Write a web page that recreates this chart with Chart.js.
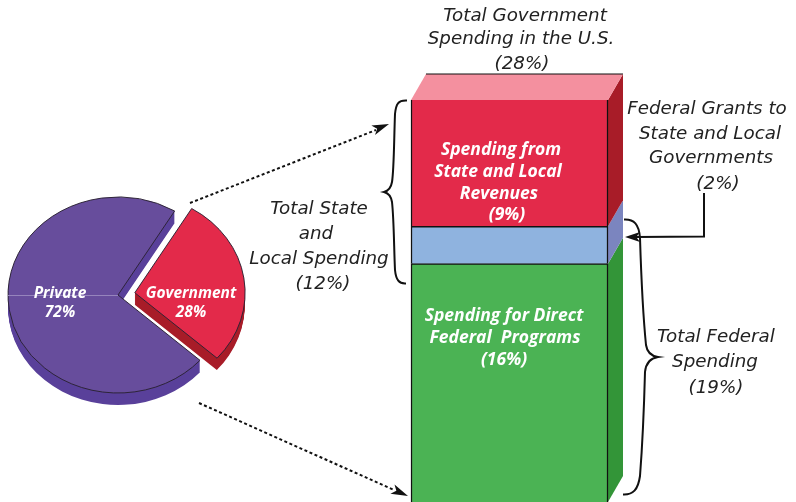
<!DOCTYPE html>
<html>
<head>
<meta charset="utf-8">
<style>
  html, body { margin: 0; padding: 0; background: #fff; overflow: hidden; }
  .wrap { position: relative; width: 796px; height: 502px; }
  canvas { position: absolute; left: 0; top: 0; }
</style>
<script src="https://cdn.jsdelivr.net/npm/chart.js@4/dist/chart.umd.js"></script>
</head>
<body>
<div class="wrap">
  <canvas id="pieChart" width="796" height="502"></canvas>
  <canvas id="barChart" width="796" height="502"></canvas>
</div>
<script>
const pieLabels = ['Government', 'Private'];
const pieValues = [28, 72];
const pieColors = ['#e32a4a', '#674d9c'];
const pieSideColors = ['#a81c28', '#59409a'];

// stacked from the bottom up; heights as drawn, which is not quite what the labels say
const barLabels = ['Spending for Direct Federal Programs', 'Federal Grants', 'Spending from State and Local Revenues'];
const barValues = [16.6, 2.6, 8.8];
const barColors = ['#4bb354', '#8fb3df', '#e32a4a'];
const barSideColors = ['#339538', '#7b85bf', '#a81c28'];
const barTopColor = '#f4909f';

const topText = ['Total Government', 'Spending in the U.S.', '(28%)'];
const stateText = ['Total State', 'and', 'Local Spending', '(12%)'];
const grantsText = ['Federal Grants to', 'State and Local', 'Governments', '(2%)'];
const federalText = ['Total Federal', 'Spending', '(19%)'];
const redText = ['Spending from', 'State and Local', 'Revenues', '(9%)'];
const greenText = ['Spending for Direct', 'Federal  Programs', '(16%)'];
const privateText = ['Private', '72%'];
const governmentText = ['Government', '28%'];

const squash = 98 / 110;
const sliceOffset = 68; // arc draws this / 4 away from the centre
const pieDepth = 12;
const depthX = 15;
const depthY = 26;

const pie3d = {
  id: 'pie3d',
  beforeDatasetsDraw(chart) {
    const { ctx } = chart;
    const arcs = chart.getDatasetMeta(0).data;
    const cx = arcs[0].x;
    const cy = arcs[0].y;
    ctx.save();
    ctx.translate(cx, cy);
    ctx.scale(1, squash);
    ctx.translate(-cx, -cy);
    arcs.forEach((arc, i) => {
      const off = i === 0 ? sliceOffset / 4 : 0;
      const mid = (arc.startAngle + arc.endAngle) / 2;
      const ax = arc.x + Math.cos(mid) * off;
      const ay = arc.y + Math.sin(mid) * off;
      ctx.fillStyle = pieSideColors[i];
      for (let d = 1; d <= pieDepth; d++) {
        ctx.beginPath();
        ctx.moveTo(ax, ay + d / squash);
        ctx.arc(ax, ay + d / squash, arc.outerRadius, arc.startAngle, arc.endAngle);
        ctx.closePath();
        ctx.fill();
      }
    });
  },
  afterDatasetsDraw(chart) {
    const { ctx } = chart;
    const arc = chart.getDatasetMeta(0).data[1];
    ctx.restore();
    // faint seam across the private slice
    ctx.strokeStyle = '#9684bd';
    ctx.lineWidth = 1;
    ctx.beginPath();
    ctx.moveTo(arc.x - arc.outerRadius, arc.y + 0.5);
    ctx.lineTo(arc.x, arc.y + 0.5);
    ctx.stroke();
  }
};

new Chart(document.getElementById('pieChart'), {
  type: 'pie',
  data: {
    labels: pieLabels,
    datasets: [{
      data: pieValues,
      backgroundColor: pieColors,
      borderColor: '#2a2233',
      borderWidth: 1,
      offset: [sliceOffset, 0],
      clip: false,
    }],
  },
  options: {
    responsive: false,
    animation: false,
    rotation: 31,
    radius: 110,
    layout: { padding: { left: 0, right: 560, top: 177, bottom: 89 } },
    plugins: { legend: { display: false }, tooltip: { enabled: false } },
  },
  plugins: [pie3d],
});

function textBlock(ctx, lines, xs, ys, color, font) {
  ctx.fillStyle = color;
  ctx.font = font;
  ctx.textAlign = 'center';
  ctx.textBaseline = 'middle';
  lines.forEach((line, i) => ctx.fillText(line, xs[i], ys[i]));
}

function arrowHead(ctx, x, y, angle, len, wid) {
  ctx.save();
  ctx.translate(x, y);
  ctx.rotate(angle);
  ctx.beginPath();
  ctx.moveTo(0, 0);
  ctx.lineTo(-len, -wid / 2);
  ctx.lineTo(-len * 0.75, 0);
  ctx.lineTo(-len, wid / 2);
  ctx.closePath();
  ctx.fill();
  ctx.restore();
}

const box3d = {
  id: 'box3d',
  beforeDatasetsDraw(chart) {
    const { ctx } = chart;
    let top = null;
    chart.data.datasets.forEach((ds, i) => {
      const bar = chart.getDatasetMeta(i).data[0];
      const right = bar.x + bar.width / 2;
      ctx.fillStyle = barSideColors[i];
      ctx.beginPath();
      ctx.moveTo(right, bar.base);
      ctx.lineTo(right + depthX, bar.base - depthY);
      ctx.lineTo(right + depthX, bar.y - depthY);
      ctx.lineTo(right, bar.y);
      ctx.closePath();
      ctx.fill();
      top = bar;
    });
    const left = top.x - top.width / 2;
    const right = top.x + top.width / 2;
    ctx.fillStyle = barTopColor;
    ctx.beginPath();
    ctx.moveTo(left, top.y);
    ctx.lineTo(left + depthX, top.y - depthY);
    ctx.lineTo(right + depthX, top.y - depthY);
    ctx.lineTo(right, top.y);
    ctx.closePath();
    ctx.fill();
    ctx.strokeStyle = '#111';
    ctx.lineWidth = 1.2;
    ctx.beginPath();
    ctx.moveTo(left + depthX, top.y - depthY);
    ctx.lineTo(right + depthX, top.y - depthY);
    ctx.stroke();
  },
  afterDraw(chart) {
    const { ctx } = chart;
    ctx.save();
    ctx.strokeStyle = '#111';
    ctx.fillStyle = '#111';

    // dotted lines from the pie to the box
    ctx.lineWidth = 2;
    ctx.setLineDash([3, 2.5]);
    ctx.beginPath();
    ctx.moveTo(190, 203);
    ctx.lineTo(376, 130);
    ctx.moveTo(199, 403);
    ctx.lineTo(394, 490);
    ctx.stroke();
    ctx.setLineDash([]);
    arrowHead(ctx, 389, 124, Math.atan2(-74, 188), 17, 10);
    arrowHead(ctx, 408, 496, Math.atan2(88, 197), 17, 10);

    // left brace
    ctx.lineWidth = 2;
    ctx.beginPath();
    ctx.moveTo(407, 100.5);
    ctx.bezierCurveTo(398, 100, 396, 104, 395, 114);
    ctx.bezierCurveTo(394, 140, 394, 170, 392, 182);
    ctx.bezierCurveTo(391, 188, 388, 191, 384, 192);
    ctx.bezierCurveTo(388, 193, 391, 196, 392, 202);
    ctx.bezierCurveTo(394, 220, 394, 250, 395, 270);
    ctx.bezierCurveTo(396, 280, 399, 284, 406, 283.5);
    ctx.stroke();

    // right brace
    ctx.beginPath();
    ctx.moveTo(624, 219.5);
    ctx.bezierCurveTo(634, 219, 639, 224, 640, 238);
    ctx.bezierCurveTo(641, 270, 643, 315, 646, 345);
    ctx.bezierCurveTo(647, 352, 651, 356, 658, 357);
    ctx.bezierCurveTo(651, 358, 646, 363, 645, 372);
    ctx.bezierCurveTo(644, 410, 642, 450, 640, 476);
    ctx.bezierCurveTo(638, 490, 633, 495, 623, 494.5);
    ctx.stroke();

    // grants leader
    ctx.beginPath();
    ctx.moveTo(704, 193);
    ctx.lineTo(704, 236.5);
    ctx.lineTo(636, 237);
    ctx.stroke();
    arrowHead(ctx, 625, 237, Math.PI, 15, 10);

    const black = '#222';
    const plain = 'italic 18.3px "DejaVu Sans"';
    const strong = 'italic 700 17.5px "Open Sans"';
    const small = 'italic 700 15.5px "Open Sans"';
    textBlock(ctx, topText, [525, 521, 522], [16, 39, 64], black, plain);
    textBlock(ctx, stateText, [319, 316, 319, 323], [209, 234, 259, 284], black, plain);
    textBlock(ctx, grantsText, [707, 710, 711, 718], [109, 134, 158, 184], black, plain);
    textBlock(ctx, federalText, [716, 715, 716], [337, 362, 388], black, plain);
    textBlock(ctx, redText, [501, 498, 499, 507], [150, 172, 194, 215], '#fff', strong);
    textBlock(ctx, greenText, [504, 505, 504], [316, 338, 360], '#fff', strong);
    textBlock(ctx, privateText, [60, 60], [294, 313], '#fff', small);
    textBlock(ctx, governmentText, [191, 191], [294, 313], '#fff', small);
    ctx.restore();
  }
};

new Chart(document.getElementById('barChart'), {
  type: 'bar',
  data: {
    labels: ['U.S.'],
    datasets: barLabels.map((label, i) => ({
      label,
      data: [barValues[i]],
      backgroundColor: barColors[i],
      borderColor: '#111',
      borderWidth: { left: 1.5, right: 1.5, top: i === 2 ? 0 : 1.5, bottom: 0 },
      borderSkipped: false,
      barPercentage: 1,
      categoryPercentage: 1,
      clip: false,
    })),
  },
  options: {
    responsive: false,
    animation: false,
    layout: { padding: { left: 411, right: 188, top: 100, bottom: 0 } },
    scales: {
      x: { display: false, stacked: true },
      y: { display: false, stacked: true, min: 0, max: 28 },
    },
    plugins: { legend: { display: false }, tooltip: { enabled: false } },
  },
  plugins: [box3d],
});
</script>
</body>
</html>
